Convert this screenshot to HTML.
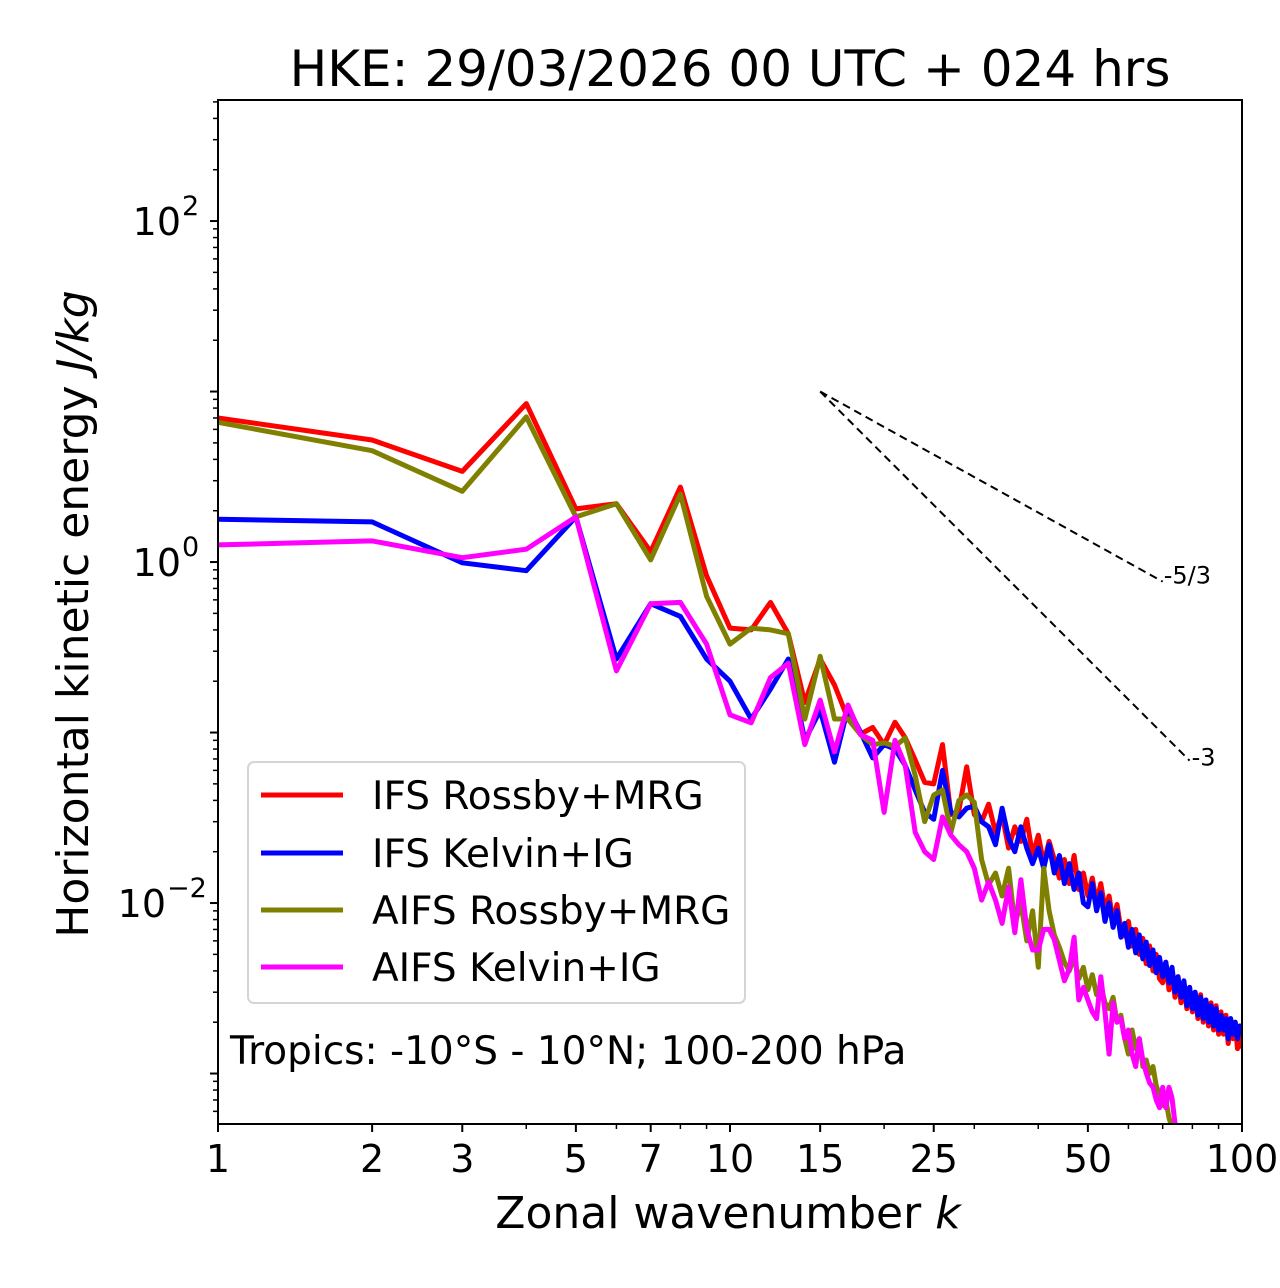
<!DOCTYPE html>
<html><head><meta charset="utf-8"><style>
html,body{margin:0;padding:0;background:#fff;}
svg{display:block;font-family:"DejaVu Sans","Liberation Sans",sans-serif;}
</style></head><body>
<svg id="chart" width="1280" height="1288" viewBox="0 0 1280 1288" xmlns="http://www.w3.org/2000/svg">
<rect width="1280" height="1288" fill="#fff"/>
<text x="730" y="86" font-size="50" text-anchor="middle">HKE: 29/03/2026 00 UTC + 024 hrs</text>
<defs><clipPath id="plotclip"><rect x="218" y="100" width="1024" height="1024"/></clipPath></defs>
<g id="series" clip-path="url(#plotclip)"></g>
<g id="reflines"></g>
<g id="axes"></g>
<text transform="translate(88,614) rotate(-90)" font-size="44" text-anchor="middle">Horizontal kinetic energy <tspan font-style="italic">J/kg</tspan></text>
<text x="728" y="1228" font-size="44" text-anchor="middle">Zonal wavenumber <tspan font-style="italic">k</tspan></text>
<g>
<rect x="248" y="762" width="497" height="241" rx="6" fill="#fff" fill-opacity="0.8" stroke="#d5d5d5" stroke-width="2"/>
<line x1="261" y1="795" x2="343" y2="795" stroke="#ff0000" stroke-width="5"/>
<text x="372" y="809" font-size="39">IFS Rossby+MRG</text>
<line x1="261" y1="853" x2="343" y2="853" stroke="#0000ff" stroke-width="5"/>
<text x="372" y="867" font-size="39">IFS Kelvin+IG</text>
<line x1="261" y1="910" x2="343" y2="910" stroke="#808000" stroke-width="5"/>
<text x="372" y="924" font-size="39">AIFS Rossby+MRG</text>
<line x1="261" y1="967" x2="343" y2="967" stroke="#ff00ff" stroke-width="5"/>
<text x="372" y="981" font-size="39">AIFS Kelvin+IG</text>
</g>
<text x="230" y="1064" font-size="39">Tropics: -10°S - 10°N; 100-200 hPa</text>
</svg>
<script>
const ifsRossby = [7.0,5.2,3.4,8.5,2.05,2.2,1.15,2.75,0.83,0.41,0.40,0.58,0.38,0.15,0.27,0.19,0.12,0.098,0.107,0.085,0.115,0.093,0.069,0.051,0.050,0.085,0.033,0.035,0.063,0.033,
0.030,0.038,0.026,0.033,0.021,0.028,0.023,0.031,0.019,0.025,0.017,0.023,0.018,0.014,0.018,0.013,0.019,0.012,0.015,0.011,
0.014,0.010,0.013,0.0092,0.0110,0.0078,0.0098,0.0070,0.0064,0.0078,0.0056,0.0070,0.0050,0.0062,0.0044,0.0056,0.0040,0.0050,0.0036,0.0034,
0.0045,0.0031,0.0040,0.0028,0.0037,0.0026,0.0034,0.0024,0.0032,0.0023,0.0030,0.0021,0.0029,0.0020,0.0027,0.0019,0.0026,0.0018,0.0025,0.0017,
0.0023,0.0017,0.0022,0.0015,0.0021,0.0016,0.0020,0.0014,0.0019,0.0014];
const ifsKelvin = [1.78,1.72,0.99,0.89,1.84,0.27,0.57,0.48,0.27,0.20,0.12,0.18,0.27,0.09,0.135,0.067,0.14,0.10,0.071,0.085,0.08,0.064,0.046,0.034,0.031,0.060,0.034,0.032,0.036,0.037,
0.030,0.028,0.022,0.036,0.024,0.020,0.028,0.021,0.017,0.021,0.016,0.022,0.015,0.019,0.013,0.017,0.012,0.015,0.010,0.0095,
0.013,0.0090,0.0115,0.0078,0.0100,0.0072,0.0090,0.0063,0.0076,0.0055,0.0070,0.0051,0.0065,0.0047,0.0059,0.0043,0.0053,0.0039,0.0048,0.0037,
0.0045,0.0034,0.0042,0.0030,0.0037,0.0028,0.0035,0.0025,0.0032,0.0024,0.0030,0.0022,0.0028,0.0021,0.0027,0.0020,0.0025,0.0019,0.0024,0.0018,
0.0022,0.0018,0.0021,0.0016,0.0021,0.0017,0.0020,0.0016,0.0019,0.0018];
const aifsRossby = [6.6,4.5,2.6,7.1,1.84,2.2,1.03,2.5,0.63,0.33,0.41,0.40,0.38,0.12,0.28,0.12,0.12,0.097,0.085,0.087,0.083,0.093,0.056,0.030,0.043,0.046,0.026,0.040,0.043,0.039,
0.018,0.0128,0.015,0.011,0.016,0.0075,0.010,0.0060,0.0090,0.0042,0.016,0.0090,0.0065,0.0055,0.0045,0.0040,0.0048,0.0036,0.0042,0.0031,
0.0038,0.0029,0.0033,0.0026,0.0024,0.0028,0.0020,0.0022,0.0016,0.0013,0.0018,0.0014,0.0016,0.0011,0.0012,0.0010,0.0011,0.00085,0.00075,0.00065,
0.00070,0.00055,0.00048,0.00045,0.00040];
const aifsKelvin = [1.26,1.33,1.06,1.19,1.84,0.23,0.57,0.58,0.33,0.127,0.114,0.21,0.255,0.085,0.155,0.077,0.145,0.097,0.09,0.034,0.09,0.064,0.026,0.020,0.018,0.032,0.025,0.022,0.020,0.016,
0.0104,0.0133,0.0104,0.0076,0.0124,0.0067,0.0137,0.0070,0.0053,0.0053,0.0070,0.0070,0.0061,0.0046,0.0035,0.0041,0.0063,0.0027,0.0032,0.0027,
0.0023,0.0021,0.0037,0.0023,0.0013,0.0026,0.0020,0.0021,0.0016,0.0018,0.0013,0.0011,0.0016,0.0012,0.00101,0.00088,0.00083,0.00070,0.00063,0.00083,
0.00063,0.00083,0.00072,0.00051,0.00048,0.00045,0.00040,0.00035];
const xTickValues = [1,2,3,5,7,10,15,25,50,100];
const xTickLabels = ["1","2","3","5","7","10","15","25","50","100"];
const xMinorValues = [4,6,8,9,20,30,40,60,70,80,90];
const yMajorExp = [-2,0,2];
const refStartK = 15, refStartE = 10, refEndK53 = 70, refEndK3 = 79;

const NS = "http://www.w3.org/2000/svg";
const X0 = 218, X1 = 1242, Y0 = 100, Y1 = 1124;
const xMin = 0, xMax = 2, yMin = -3.296, yMax = 2.71;
function xs(k){ return X0 + (Math.log10(k) - xMin) / (xMax - xMin) * (X1 - X0); }
function ys(v){ return Y1 - (Math.log10(v) - yMin) / (yMax - yMin) * (Y1 - Y0); }
function mk(tag, attrs, parent){ const e = document.createElementNS(NS, tag); for (const a in attrs) e.setAttribute(a, attrs[a]); parent.appendChild(e); return e; }

const seriesG = document.getElementById('series');
const defs = [[ifsRossby,'#ff0000','ifs-rossby-line'],[ifsKelvin,'#0000ff','ifs-kelvin-line'],[aifsRossby,'#808000','aifs-rossby-line'],[aifsKelvin,'#ff00ff','aifs-kelvin-line']];
defs.forEach(function(d){
  const pts = d[0].map(function(v,i){ return xs(i+1).toFixed(1)+','+ys(v).toFixed(1); }).join(' ');
  const pl = mk('polyline', {points: pts, fill:'none', stroke:d[1], 'stroke-width':5, 'stroke-linejoin':'round'}, seriesG);
  
  
});

const refG = document.getElementById('reflines');
const l53 = mk('line', {x1:xs(refStartK), y1:ys(refStartE), x2:xs(refEndK53), y2:ys(refStartE*Math.pow(refEndK53/refStartK,-5/3)), stroke:'#000', 'stroke-width':2, 'stroke-dasharray':'8,5'}, refG);


const l3 = mk('line', {x1:xs(refStartK), y1:ys(refStartE), x2:xs(refEndK3), y2:ys(refStartE*Math.pow(refEndK3/refStartK,-3)), stroke:'#000', 'stroke-width':2, 'stroke-dasharray':'8,5'}, refG);


const t53 = mk('text', {x:xs(refEndK53)+1, y:ys(refStartE*Math.pow(refEndK53/refStartK,-5/3))+2, 'font-size':24}, refG);
t53.textContent = '-5/3';


const t3 = mk('text', {x:xs(refEndK3)+2, y:ys(refStartE*Math.pow(refEndK3/refStartK,-3))+5, 'font-size':24}, refG);
t3.textContent = '-3';



const ax = document.getElementById('axes');
const frame = mk('rect', {x:X0, y:Y0, width:X1-X0, height:Y1-Y0, fill:'none', stroke:'#000', 'stroke-width':2}, ax);


xTickValues.forEach(function(v,i){
  const x = xs(v);
  mk('line', {x1:x, y1:Y1, x2:x, y2:Y1+8, stroke:'#000', 'stroke-width':2}, ax);
  const t = mk('text', {x:x, y:Y1+48, 'font-size':38, 'text-anchor':'middle'}, ax);
  t.textContent = xTickLabels[i];
  
  
});
xMinorValues.forEach(function(v){
  const x = xs(v);
  mk('line', {x1:x, y1:Y1, x2:x, y2:Y1+5, stroke:'#000', 'stroke-width':1.5}, ax);
});
for (let e = -4; e <= 2; e++){
  for (let m = 1; m <= 9; m++){
    const v = m*Math.pow(10,e); const y = ys(v);
    if (y < Y0-0.5 || y > Y1+0.5) continue;
    if (m === 1) mk('line', {x1:X0-8, y1:y, x2:X0, y2:y, stroke:'#000', 'stroke-width':2}, ax);
    else mk('line', {x1:X0-5, y1:y, x2:X0, y2:y, stroke:'#000', 'stroke-width':1.5}, ax);
  }
}
yMajorExp.forEach(function(e){
  const y = ys(Math.pow(10,e));
  const sup = e < 0 ? '\u2212' + (-e) : String(e);
  const t = mk('text', {x: e < 0 ? X0-52 : X0-37, y:y+14, 'font-size':38, 'text-anchor':'end'}, ax);
  t.textContent = '10';
  
  
  const s = mk('text', {x: e < 0 ? X0-51 : X0-36, y:y-6, 'font-size':27, 'text-anchor':'start'}, ax);
  s.textContent = sup;
});
</script>
</body></html>
